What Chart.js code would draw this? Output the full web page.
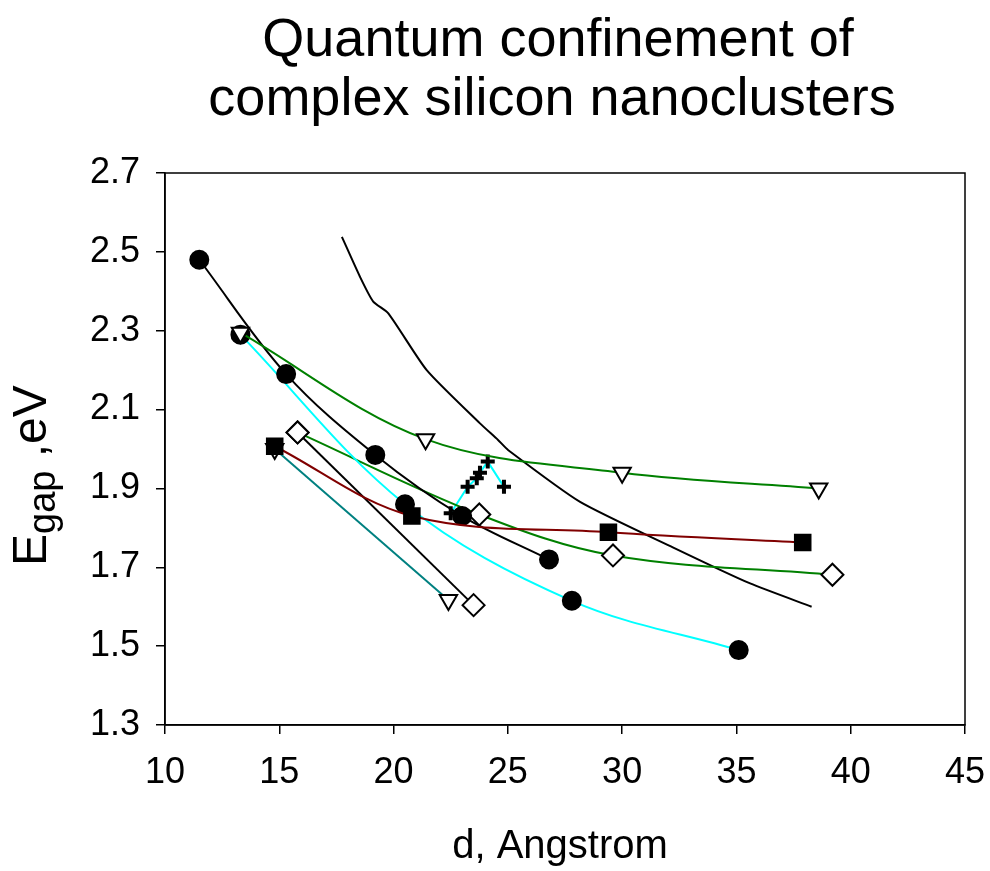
<!DOCTYPE html>
<html>
<head>
<meta charset="utf-8">
<script src="https://cdn.jsdelivr.net/npm/chart.js@4"></script>
<style>
  html, body { margin: 0; padding: 0; background: #fff; }
  #wrap { width: 990px; height: 871px; }
</style>
</head>
<body>
<div id="wrap"><canvas id="chart" width="990" height="871"></canvas></div>
<script>
// values
const xTicks = [10, 15, 20, 25, 30, 35, 40, 45];
const yTicks = [1.3, 1.5, 1.7, 1.9, 2.1, 2.3, 2.5, 2.7];

const blackCircleX = [11.5, 15.3, 19.2, 23.0, 26.8];
const blackCircleY = [2.48, 2.19, 1.985, 1.83, 1.72];

const cyanCircleX = [13.3, 20.5, 27.8, 35.1];
const cyanCircleY = [2.29, 1.86, 1.615, 1.49];

const greenTriX = [13.3, 21.4, 30.0, 38.6];
const greenTriY = [2.295, 2.025, 1.94, 1.90];

const greenDiamondX = [15.8, 23.75, 29.6, 39.2];
const greenDiamondY = [2.042, 1.834, 1.73, 1.681];

const redSquareX = [14.8, 20.8, 29.4, 37.9];
const redSquareY = [2.007, 1.83, 1.789, 1.763];

const blackDiamondX = [15.8, 23.5];
const blackDiamondY = [2.042, 1.604];

const tealTriX = [14.8, 22.4];
const tealTriY = [2.0, 1.617];

const crossX = [22.5, 23.24, 23.64, 23.78, 24.12, 24.83];
const crossY = [1.837, 1.904, 1.926, 1.94, 1.968, 1.904];

const curveX = [17.74, 18.53, 19.11, 19.77, 21.45, 23.78, 24.57, 25.02, 28.16, 32.24, 35.6, 38.29];
const curveY = [2.538, 2.437, 2.374, 2.344, 2.2, 2.065, 2.023, 1.997, 1.866, 1.75, 1.659, 1.6];

const zip = (xs, ys) => xs.map((x, i) => ({ x, y: ys[i] }));

function series(xs, ys, color, style, opts = {}) {
  return Object.assign({
    data: zip(xs, ys),
    showLine: true,
    borderColor: color,
    borderWidth: 2,
    tension: 0.35,
    pointStyle: style,
    pointRadius: 9,
    pointBackgroundColor: "#000",
    pointBorderColor: "#000",
    pointBorderWidth: 2,
  }, opts);
}

const openTri = { pointBackgroundColor: "#fff", pointRotation: 180, pointRadius: 10 };
const openDiamond = { pointBackgroundColor: "#fff", pointRadius: 11 };

// first in the list is drawn on top
const datasets = [
  series(greenTriX, greenTriY, "#008000", "triangle", openTri),
  series(redSquareX, redSquareY, "#800000", "rect", { pointRadius: 11 }),
  series(tealTriX, tealTriY, "#008080", "triangle", Object.assign({ tension: 0 }, openTri)),
  series(blackCircleX, blackCircleY, "#000", "circle"),
  series(cyanCircleX, cyanCircleY, "#00FFFF", "circle"),
  series(greenDiamondX, greenDiamondY, "#008000", "rectRot", openDiamond),
  series(blackDiamondX, blackDiamondY, "#000", "rectRot", Object.assign({ tension: 0 }, openDiamond)),
  series(crossX, crossY, "#00FFFF", "cross", { tension: 0, pointRadius: 7, pointBorderWidth: 4 }),
  series(curveX, curveY, "#000", "circle", { pointRadius: 0, tension: 0.2 }),
];

const font = "'Liberation Sans', Arial, sans-serif";

const textPlugin = {
  id: "texts",
  afterDraw(chart) {
    const ctx = chart.ctx;
    const a = chart.chartArea;
    ctx.save();
    // frame
    ctx.strokeStyle = "#000";
    ctx.lineWidth = 1.5;
    ctx.strokeRect(a.left, a.top, a.right - a.left, a.bottom - a.top);
    ctx.fillStyle = "#000";
    // title
    ctx.font = `54px ${font}`;
    ctx.textAlign = "center";
    ctx.textBaseline = "alphabetic";
    ctx.fillText("Quantum confinement of", 558, 56);
    ctx.fillText("complex silicon nanoclusters", 552, 115);
    // x title
    ctx.font = `40px ${font}`;
    ctx.fillText("d, Angstrom", 560, 858);
    // y title with subscript
    ctx.translate(46, 566);
    ctx.rotate(-Math.PI / 2);
    ctx.textAlign = "left";
    ctx.font = `48px ${font}`;
    ctx.fillText("E", 0, 0);
    let w = ctx.measureText("E").width;
    ctx.font = `38px ${font}`;
    ctx.fillText("gap", w, 9);
    w += ctx.measureText("gap").width;
    ctx.font = `48px ${font}`;
    ctx.fillText(" ,eV", w, 0);
    ctx.restore();
  }
};

new Chart(document.getElementById("chart"), {
  type: "scatter",
  data: { datasets },
  options: {
    responsive: false,
    animation: false,
    layout: { padding: { top: 173, right: 25, left: 0, bottom: 0 } },
    plugins: { legend: { display: false }, tooltip: { enabled: false } },
    scales: {
      x: {
        type: "linear",
        min: 10, max: 45,
        afterFit: s => { s.height = 146; s.paddingLeft = 0; s.paddingRight = 0; },
        afterBuildTicks: s => { s.ticks = xTicks.map(v => ({ value: v })); },
        grid: { drawOnChartArea: false, tickLength: 9, color: "#000", lineWidth: 1.5 },
        border: { color: "#000", width: 1.5 },
        ticks: { color: "#000", padding: 17, font: { family: font, size: 36 }, maxRotation: 0 }
      },
      y: {
        type: "linear",
        min: 1.3, max: 2.7,
        afterFit: s => { s.width = 165; s.paddingTop = 0; s.paddingBottom = 0; },
        afterBuildTicks: s => { s.ticks = yTicks.map(v => ({ value: v })); },
        grid: { drawOnChartArea: false, tickLength: 9, color: "#000", lineWidth: 1.5 },
        border: { color: "#000", width: 1.5 },
        ticks: { color: "#000", padding: 16, font: { family: font, size: 36 }, callback: v => v.toFixed(1) }
      }
    }
  },
  plugins: [textPlugin]
});
</script>
</body>
</html>
